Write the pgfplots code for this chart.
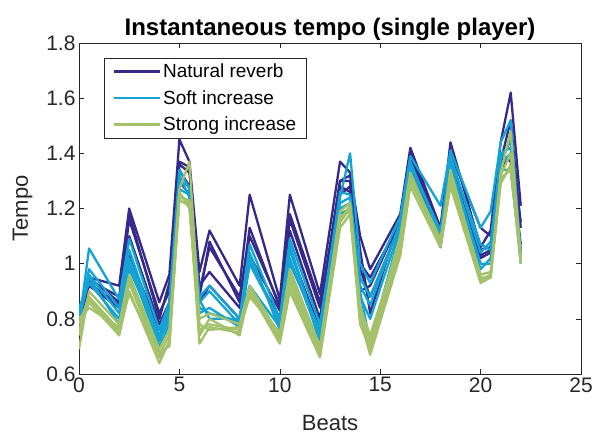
\documentclass[border=0pt]{standalone}
\usepackage{fontspec}
\setmainfont{Liberation Sans}
\usepackage{pgfplots}
\usepackage{pgfplotstable}
\pgfplotsset{compat=1.18}
\definecolor{natc}{HTML}{35298A}
\definecolor{softc}{HTML}{14A3D4}
\definecolor{strc}{HTML}{A3C06A}
\definecolor{axc}{HTML}{262626}

\pgfplotstableread{
beat a b c d e
0    0.79 0.80 0.78 0.82 0.80
0.5  0.95 0.94 0.93 0.95 0.92
2    0.92 0.88 0.85 0.86 0.84
2.5  1.20 1.16 1.10 1.18 1.03
4    0.86 0.82 0.78 0.80 0.76
4.5  0.96 0.90 0.86 0.93 0.82
5    1.45 1.36 1.37 1.34 1.30
5.5  1.37 1.33 1.35 1.28 1.25
6    0.97 0.90 0.92 0.88 0.86
6.5  1.12 1.06 0.97 1.08 0.92
8    0.92 0.88 0.84 0.86 0.80
8.5  1.25 1.10 1.03 1.13 1.00
10   0.87 0.85 0.83 0.84 0.80
10.5 1.25 1.16 1.12 1.18 1.05
12   0.89 0.84 0.80 0.86 0.76
13   1.37 1.30 1.30 1.25 1.28
13.5 1.33 1.30 1.32 1.28 1.26
14   1.10 0.90 1.05 1.00 0.98
14.5 0.98 0.92 0.82 0.95 0.88
16   1.18 1.16 1.17 1.15 1.14
16.5 1.42 1.38 1.40 1.36 1.35
18   1.13 1.10 1.12 1.08 1.06
18.5 1.44 1.33 1.40 1.36 1.30
20   1.06 1.03 1.13 1.05 1.02
20.5 1.12 1.05 1.10 1.06 1.04
21   1.44 1.37 1.40 1.37 1.34
21.5 1.62 1.52 1.37 1.45 1.40
22   1.21 1.13 1.07 1.15 1.05
}\natural

\pgfplotstableread{
beat a b c d e
0    0.78 0.80 0.82 0.84 0.79
0.5  1.055 0.98 0.96 0.93 0.95
2    0.87 0.84 0.82 0.80 0.78
2.5  1.09 1.05 1.02 1.00 0.98
4    0.76 0.73 0.72 0.70 0.74
4.5  0.86 0.82 0.80 0.78 0.84
5    1.34 1.30 1.27 1.32 1.25
5.5  1.27 1.28 1.25 1.24 1.22
6    0.88 0.86 0.84 0.82 0.87
6.5  0.92 0.90 0.82 0.84 0.80
8    0.80 0.78 0.79 0.77 0.80
8.5  1.07 1.02 0.92 1.00 1.04
10   0.80 0.78 0.77 0.79 0.76
10.5 1.09 1.05 1.07 1.02 1.00
12   0.78 0.74 0.71 0.73 0.76
13   1.24 1.22 1.20 1.18 1.26
13.5 1.40 1.24 1.22 1.20 1.25
14   1.00 0.95 0.90 0.88 0.92
14.5 0.93 0.88 0.71 0.80 0.85
16   1.17 1.14 1.12 1.13 1.15
16.5 1.39 1.36 1.34 1.35 1.37
18   1.21 1.12 1.08 1.06 1.10
18.5 1.41 1.38 1.36 1.34 1.39
20   1.13 1.07 1.00 0.98 1.04
20.5 1.19 1.05 1.00 1.02 1.08
21   1.44 1.40 1.36 1.34 1.38
21.5 1.52 1.42 1.40 1.34 1.45
22   1.03 1.00 1.02 1.01 1.04
}\soft

\pgfplotstableread{
beat a b c d e
0    0.69 0.78 0.76 0.80 0.74
0.5  0.90 0.88 0.86 0.84 0.87
2    0.78 0.76 0.74 0.77 0.75
2.5  0.96 0.93 0.90 0.89 0.94
4    0.69 0.66 0.64 0.67 0.68
4.5  0.76 0.71 0.72 0.74 0.70
5    1.27 1.25 1.23 1.24 1.26
5.5  1.37 1.22 1.21 1.23 1.20
6    0.80 0.71 0.76 0.74 0.78
6.5  0.82 0.77 0.78 0.80 0.76
8    0.78 0.75 0.76 0.74 0.77
8.5  0.92 0.90 0.89 0.91 0.88
10   0.74 0.71 0.73 0.72 0.75
10.5 0.98 0.90 0.94 0.92 0.96
12   0.70 0.66 0.68 0.67 0.69
13   1.19 1.13 1.15 1.17 1.16
13.5 1.22 1.18 1.20 1.19 1.21
14   0.85 0.80 0.82 0.78 0.84
14.5 0.72 0.67 0.70 0.69 0.74
16   1.10 1.03 1.06 1.05 1.08
16.5 1.33 1.28 1.30 1.31 1.32
18   1.07 1.06 1.08 1.07 1.09
18.5 1.34 1.28 1.30 1.32 1.29
20   0.95 0.93 0.94 0.96 0.94
20.5 0.95 0.95 0.96 0.97 0.96
21   1.33 1.29 1.31 1.30 1.32
21.5 1.48 1.36 1.34 1.35 1.40
22   1.01 1.01 1.02 1.00 1.03
}\strong

\begin{document}
\begin{tikzpicture}
\begin{axis}[
  name=ax,
  scale only axis,
  width=502bp, height=331bp,
  xmin=0, xmax=25, ymin=0.6, ymax=1.8,
  xtick={0,5,...,25},
  ytick={0.6,0.8,1,1.2,1.4,1.6,1.8},
  /pgf/number format/assume math mode=true,
  tick label style={font=\fontsize{21bp}{21bp}\selectfont, text=axc},
  tick align=inside,
  major tick length=5bp,
  tick style={axc, line width=0.6bp},
  axis line style={axc, line width=0.6bp},
  xlabel={Beats}, ylabel={Tempo},
  label style={font=\fontsize{22bp}{22bp}\selectfont, text=axc},
  xlabel style={yshift=-16bp},
  ylabel style={yshift=7bp},
  title={Instantaneous tempo (single player)},
  title style={font=\bfseries\fontsize{24bp}{24bp}\selectfont, yshift=-7bp},
  every axis plot/.append style={line width=2.3bp, line join=round},
  legend cell align=left,
  legend style={at={(0.05,0.955)}, anchor=north west, draw=axc,
    font=\fontsize{19bp}{19bp}\selectfont, row sep=7bp, inner xsep=8bp, inner ysep=4bp},
  legend image code/.code={\draw[#1, line width=2.8bp] (0bp,0bp) -- (46bp,0bp);},
]
\foreach \c [count=\i] in {a,b,c,d,e}{
  \ifnum\i=1
    \addplot[natc] table[x=beat, y=\c] {\natural};
  \else
    \addplot[natc, forget plot] table[x=beat, y=\c] {\natural};
  \fi
}
\foreach \c [count=\i] in {a,b,c,d,e}{
  \ifnum\i=1
    \addplot[softc] table[x=beat, y=\c] {\soft};
  \else
    \addplot[softc, forget plot] table[x=beat, y=\c] {\soft};
  \fi
}
\foreach \c [count=\i] in {a,b,c,d,e}{
  \ifnum\i=1
    \addplot[strc] table[x=beat, y=\c] {\strong};
  \else
    \addplot[strc, forget plot] table[x=beat, y=\c] {\strong};
  \fi
}
\legend{Natural reverb, Soft increase, Strong increase}
\end{axis}
\pgfresetboundingbox
\path[use as bounding box] (ax.south west) ++(-79bp,-63bp) rectangle ++(598bp,437bp);
\end{tikzpicture}
\end{document}
